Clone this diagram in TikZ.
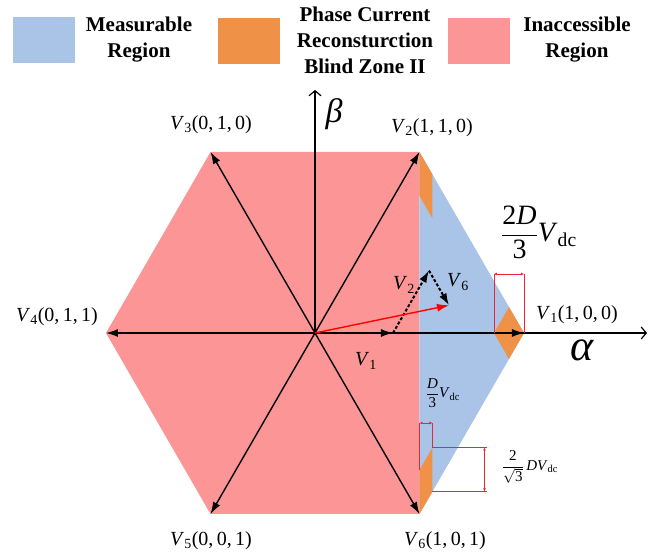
\documentclass[tikz,border=0pt]{standalone}
\usepackage{fontspec}
\setmainfont{Liberation Serif}[
  BoldFont={Liberation Serif Bold},
  ItalicFont={Liberation Serif Italic},
  BoldItalicFont={Liberation Serif Bold Italic}]
\usepackage{tikz}
\usetikzlibrary{arrows.meta, positioning, calc}
\definecolor{measblue}{RGB}{170,196,232}
\definecolor{blindorange}{RGB}{240,145,72}
\definecolor{inaccred}{RGB}{252,150,150}
\definecolor{dimred}{RGB}{232,40,52}
\tikzset{
  legendbox/.style={rectangle, minimum width=62pt, minimum height=46pt, inner sep=0pt},
  legendtext/.style={font=\fontsize{21}{26}\selectfont\bfseries, align=center, inner sep=0pt},
  vec/.style={-{Latex[length=12pt,width=8pt]}, line width=1.4pt, color=black},
  compvec/.style={vec, dash pattern=on 3pt off 2pt, line width=2pt},
  refvec/.style={-{Latex[length=12pt,width=8pt]}, line width=1.4pt, color=red},
  axis/.style={-{Straight Barb[length=5pt,width=12pt]}, line width=1.2pt},
  dimline/.style={dimred, line width=0.9pt},
  dimarrow/.style={dimred, line width=0.9pt, {Latex[length=3pt,width=3pt]}-{Latex[length=3pt,width=3pt]}},
  vlabel/.style={font=\fontsize{20}{22}\selectfont, inner sep=0pt}
}

\begin{document}
\begin{tikzpicture}[x=1pt, y=1pt]
  \useasboundingbox (-315,-223) rectangle (347,333);

  % Hexagon vertices
  \def\R{209}
  \coordinate (O) at (0,0);
  \foreach \i/\ang in {1/0, 2/60, 3/120, 4/180, 5/240, 6/300}
    \coordinate (V\i) at (\ang:\R);

  % Regions
  \fill[inaccred] (V2) -- (V3) -- (V4) -- (V5) -- (V6) -- cycle;
  \fill[measblue] (V2) -- (V1) -- (V6) -- cycle;
  \fill[blindorange] (V2) -- ++(13,-22.5) -- ++(0,-44) -- ++(-13,22.5) -- cycle;
  \fill[blindorange] (V6) -- ++(13,22.5) -- ++(0,44) -- ++(-13,-22.5) -- cycle;
  \fill[blindorange] (V1) -- ++(-15,26) -- ++(-15,-26) -- ++(15,-26) -- cycle;

  % Legend
  \node[legendbox, fill=measblue] (boxmeas) at (-271,293) {};
  \node[legendtext] (txtmeas) at (-176,293) {Measurable\\Region};
  \node[legendbox, fill=blindorange] (boxblind) at (-66,292) {};
  \node[legendtext] (txtblind) at (50,293) {Phase Current\\Reconsturction\\Blind Zone II};
  \node[legendbox, fill=inaccred] (boxinacc) at (164,292) {};
  \node[legendtext] (txtinacc) at (262,293) {Inaccessible\\Region};

  % Axes
  \coordinate (betatip) at (0,243);
  \coordinate (alphatip) at (332,0);
  \draw[axis] (O) -- (betatip);
  \draw[axis] (O) -- (alphatip);
  \node[font=\fontsize{34}{36}\selectfont\itshape] (betalab) at (19,219) {β};
  \node[font=\fontsize{44}{46}\selectfont\itshape] (alphalab) at (267,-17) {α};

  % Basic voltage vectors
  \foreach \i in {1,...,6}
    \draw[vec] (O) -- (V\i);
  \node[vlabel] (labV1) at (262,18) {\textit{V}\textsubscript{1}(1,\,0,\,0)};
  \node[vlabel] (labV2) at (117,205) {\textit{V}\textsubscript{2}(1,\,1,\,0)};
  \node[vlabel] (labV3) at (-104,208) {\textit{V}\textsubscript{3}(0,\,1,\,0)};
  \node[vlabel] (labV4) at (-258,16) {\textit{V}\textsubscript{4}(0,\,1,\,1)};
  \node[vlabel] (labV5) at (-104,-208) {\textit{V}\textsubscript{5}(0,\,0,\,1)};
  \node[vlabel] (labV6) at (130,-208) {\textit{V}\textsubscript{6}(1,\,0,\,1)};

  % Synthesis of the reference vector
  \coordinate (c1) at (78,0);
  \coordinate (c2) at ($(c1)+(60:72)$);
  \coordinate (c3) at ($(c2)+(-60:40)$);
  \draw[vec] (O) -- (c1);
  \draw[compvec] (c1) -- (c2);
  \draw[compvec] (c2) -- (c3);
  \draw[refvec] (O) -- (c3);
  \node[vlabel] (labc1) at (51,-28) {\textit{V}\textsubscript{1}};
  \node[vlabel] (labc2) at (89,48) {\textit{V}\textsubscript{2}};
  \node[vlabel] (labc3) at (143,51) {\textit{V}\textsubscript{6}};

  % Dimension marks near V1
  \coordinate (d1a) at ($(V1)+(-30,0)$);
  \draw[dimline] (d1a) -- ++(0,59) coordinate (d1b);
  \draw[dimline] (V1) -- ++(0,59) coordinate (d1c);
  \draw[dimarrow] (d1b) -- (d1c);
  \node[font=\fontsize{28}{30}\selectfont, inner sep=0pt] (lab2d) at (224,101)
    {$\displaystyle\frac{\mbox{2\textit{D}}}{\mbox{3}}$\textit{V}\textsubscript{dc}};

  % Dimension marks near V6
  \coordinate (e1) at ($(V6)+(0,44)$);
  \coordinate (e2) at ($(V6)+(13,66.5)$);
  \coordinate (e3) at ($(V6)+(13,22.5)$);
  \draw[dimline] (e1) -- ++(0,47) coordinate (e1t);
  \draw[dimline] (e2) -- ++(0,24.5) coordinate (e2t);
  \draw[dimarrow] (e1t) -- (e2t);
  \draw[dimline] (e2) -- ++(55,0) coordinate (e2r);
  \draw[dimline] (e3) -- ++(55,0) coordinate (e3r);
  \draw[dimarrow] ($(e2r)+(-3,0)$) -- ($(e3r)+(-3,0)$);
  \node[font=\fontsize{15}{17}\selectfont, inner sep=0pt] (labd3) at (128,-60)
    {$\displaystyle\frac{\mbox{\textit{D}}}{\mbox{3}}$\textit{V}\textsubscript{dc}};
  \node[font=\fontsize{15}{17}\selectfont, inner sep=0pt] (labsq) at (215,-134)
    {$\displaystyle\frac{\mbox{2}}{\rule{0pt}{13pt}\sqrt{\mbox{3}}}$\,\textit{DV}\textsubscript{dc}};
\end{tikzpicture}
\end{document}
